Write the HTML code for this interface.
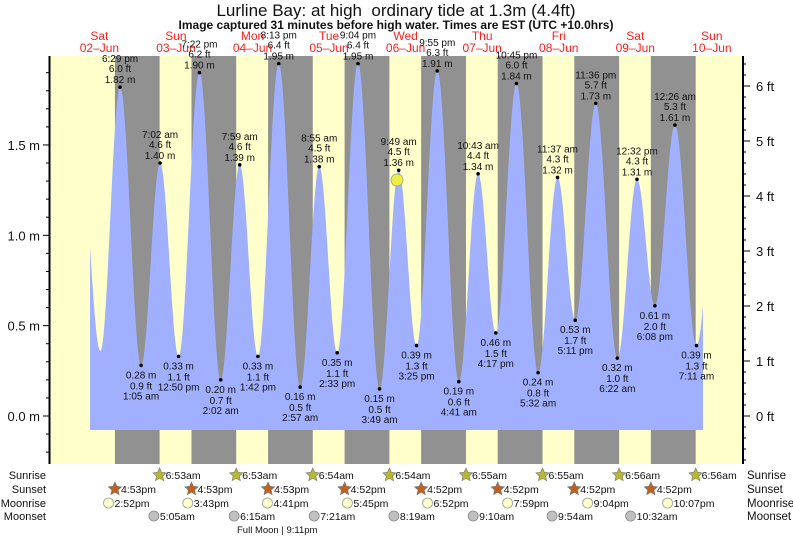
<!DOCTYPE html>
<html><head><meta charset="utf-8"><style>
body{margin:0;background:#fff;}
svg{display:block;font-family:"Liberation Sans",sans-serif;}
</style></head><body>
<svg id="s" width="793" height="538" viewBox="0 0 793 538" xmlns="http://www.w3.org/2000/svg">
<text x="396" y="16" font-size="17" text-anchor="middle" fill="#111" xml:space="preserve">Lurline Bay: at high  ordinary tide at 1.3m (4.4ft)</text>
</svg>
<script>
var S=document.getElementById('s'),NS='http://www.w3.org/2000/svg';
function el(t,a,txt){var e=document.createElementNS(NS,t);for(var k in a)e.setAttribute(k,a[k]);if(txt!=null)e.textContent=txt;S.appendChild(e);return e;}
function X(t){return 61.1+3.19*t;}
function Y(h){return 416-180.7*h;}
el('text',{x:396,y:29,'font-size':12,'text-anchor':'middle','font-weight':'bold',fill:'#111'},'Image captured 31 minutes before high water. Times are EST (UTC +10.0hrs)');
el('rect',{x:50,y:56,width:693,height:408,fill:'#ffffcc'});
var rise=[6.88,6.88,6.9,6.9,6.92,6.92,6.92,6.93,6.93];
var set=[16.88,16.88,16.88,16.87,16.87,16.87,16.87,16.87];
for(var d=0;d<8;d++){var a=X(d*24+set[d]),b=X((d+1)*24+rise[d+1]);el('rect',{x:a,y:56,width:b-a,height:408,fill:'#919191'});}
var ex=[[6.2,1.41],[12.3,0.36],[18.48,1.82],
[24+1.08,0.28],[24+7.03,1.40],[24+12.83,0.33],[24+19.37,1.90],
[48+2.03,0.20],[48+7.98,1.39],[48+13.7,0.33],[48+20.22,1.95],
[72+2.95,0.16],[72+8.92,1.38],[72+14.55,0.35],[72+21.07,1.95],
[96+3.82,0.15],[96+9.82,1.36],[96+15.42,0.39],[96+21.92,1.91],
[120+4.68,0.19],[120+10.72,1.34],[120+16.28,0.46],[120+22.75,1.84],
[144+5.53,0.24],[144+11.62,1.32],[144+17.18,0.53],[144+23.6,1.73],
[168+6.37,0.32],[168+12.53,1.31],[168+18.13,0.61],
[192+0.43,1.61],[192+7.18,0.39],[192+13.4,1.30]];
function H(t){for(var i=0;i<ex.length-1;i++){if(t>=ex[i][0]&&t<=ex[i+1][0]){var f=(t-ex[i][0])/(ex[i+1][0]-ex[i][0]);return ex[i][1]+(ex[i+1][1]-ex[i][1])*(1-Math.cos(Math.PI*f))/2;}}return 0;}
var p='M90,430';
for(var x=90;x<=703;x+=0.5){var t=(x-61.1)/3.19;p+=' L'+x+','+Y(H(t)).toFixed(1);}
p+=' L703,430 Z';
el('path',{d:p,fill:'#a0b0ff'});
el('line',{x1:49.5,y1:56,x2:49.5,y2:464,stroke:'#000','stroke-width':2});
el('line',{x1:743,y1:56,x2:743,y2:464,stroke:'#000','stroke-width':2});
for(var h=-0.2;h<=2.0;h+=0.1){var y=Y(h);if(y<56||y>464)continue;var maj=Math.abs(h*2-Math.round(h*2))<0.01;el('line',{x1:maj?43:46,y1:y,x2:49,y2:y,stroke:'#000'});}
[0,0.5,1.0,1.5].forEach(function(h){el('text',{x:40,y:Y(h)+5,'font-size':13,'text-anchor':'end',fill:'#111'},h.toFixed(1)+' m');});
for(var f=-0.8;f<=6.6;f+=0.2){var y=416-55*f;if(y<56||y>464)continue;var maj=Math.abs(f-Math.round(f))<0.01;el('line',{x1:743,y1:y,x2:maj?750:746,y2:y,stroke:'#000'});if(maj)el('text',{x:756,y:y+5,'font-size':13,fill:'#111'},Math.round(f)+' ft');}
var days=[['Sat','02-Jun'],['Sun','03-Jun'],['Mon','04-Jun'],['Tue','05-Jun'],['Wed','06-Jun'],['Thu','07-Jun'],['Fri','08-Jun'],['Sat','09-Jun'],['Sun','10-Jun']];
days.forEach(function(dd,i){var x=X(i*24+12);el('text',{x:x,y:40,'font-size':12,'text-anchor':'middle',fill:'#ff2020'},dd[0]);el('text',{x:x,y:52,'font-size':12,'text-anchor':'middle',fill:'#ff2020'},dd[1].replace('-','\u2013'));});
var labs=[[18.48,1.82,'6:29 pm','6.0 ft'],[24+1.08,0.28,'1:05 am','0.9 ft'],[24+7.03,1.40,'7:02 am','4.6 ft'],[24+12.83,0.33,'12:50 pm','1.1 ft'],[24+19.37,1.90,'7:22 pm','6.2 ft'],
[48+2.03,0.20,'2:02 am','0.7 ft'],[48+7.98,1.39,'7:59 am','4.6 ft'],[48+13.7,0.33,'1:42 pm','1.1 ft'],[48+20.22,1.95,'8:13 pm','6.4 ft'],
[72+2.95,0.16,'2:57 am','0.5 ft'],[72+8.92,1.38,'8:55 am','4.5 ft'],[72+14.55,0.35,'2:33 pm','1.1 ft'],[72+21.07,1.95,'9:04 pm','6.4 ft'],
[96+3.82,0.15,'3:49 am','0.5 ft'],[96+9.82,1.36,'9:49 am','4.5 ft'],[96+15.42,0.39,'3:25 pm','1.3 ft'],[96+21.92,1.91,'9:55 pm','6.3 ft'],
[120+4.68,0.19,'4:41 am','0.6 ft'],[120+10.72,1.34,'10:43 am','4.4 ft'],[120+16.28,0.46,'4:17 pm','1.5 ft'],[120+22.75,1.84,'10:45 pm','6.0 ft'],
[144+5.53,0.24,'5:32 am','0.8 ft'],[144+11.62,1.32,'11:37 am','4.3 ft'],[144+17.18,0.53,'5:11 pm','1.7 ft'],[144+23.6,1.73,'11:36 pm','5.7 ft'],
[168+6.37,0.32,'6:22 am','1.0 ft'],[168+12.53,1.31,'12:32 pm','4.3 ft'],[168+18.13,0.61,'6:08 pm','2.0 ft'],
[192+0.43,1.61,'12:26 am','5.3 ft'],[192+7.18,0.39,'7:11 am','1.3 ft']];
labs.forEach(function(l){var x=X(l[0]),y=Y(l[1]);el('circle',{cx:x,cy:y,r:1.8,fill:'#000'});var hi=l[1]>1;var o={'font-size':10,'text-anchor':'middle',fill:'#111'};
function T(yy,s){o.x=x;o.y=yy;el('text',o,s);}
if(hi){T(y-4,l[1].toFixed(2)+' m');T(y-15,l[3]);T(y-25,l[2]);}
else{T(y+13,l[1].toFixed(2)+' m');T(y+24,l[3]);T(y+34,l[2]);}});
el('circle',{cx:397,cy:180,r:6,fill:'#eeee44',stroke:'#999','stroke-width':0.8});
var rowY=[475,489,503,516];
['Sunrise','Sunset','Moonrise','Moonset'].forEach(function(n,i){el('text',{x:46,y:rowY[i]+4,'font-size':11,'text-anchor':'end',fill:'#111'},n);el('text',{x:747,y:rowY[i]+4,'font-size':11.5,fill:'#111'},n);});
function star(cx,cy,fill){var pts=[];for(var k=0;k<10;k++){var r=k%2?3.3:7,a=-Math.PI/2+k*Math.PI/5;pts.push((cx+r*Math.cos(a)).toFixed(1)+','+(cy+r*Math.sin(a)).toFixed(1));}el('polygon',{points:pts.join(' '),fill:fill,stroke:'#777','stroke-width':0.6});}
var sr=['6:53am','6:53am','6:54am','6:54am','6:55am','6:55am','6:56am','6:56am'];
for(var d=1;d<=8;d++){var x=X(d*24+rise[d]);star(x,rowY[0],'#b8b830');el('text',{x:x+6,y:rowY[0]+4,'font-size':10.5,fill:'#111'},sr[d-1]);}
var ss=['4:53pm','4:53pm','4:53pm','4:52pm','4:52pm','4:52pm','4:52pm','4:52pm'];
for(var d=0;d<8;d++){var x=X(d*24+set[d]);star(x,rowY[1],'#c06020');el('text',{x:x+6,y:rowY[1]+4,'font-size':10.5,fill:'#111'},ss[d]);}
var mr=[[14.87,'2:52pm'],[24+15.72,'3:43pm'],[48+16.68,'4:41pm'],[72+17.75,'5:45pm'],[96+18.87,'6:52pm'],[120+19.98,'7:59pm'],[144+21.07,'9:04pm'],[168+22.12,'10:07pm']];
mr.forEach(function(m){var x=X(m[0]);el('circle',{cx:x,cy:rowY[2],r:5,fill:'#ffffcc',stroke:'#999','stroke-width':0.8});el('text',{x:x+6,y:rowY[2]+4,'font-size':10.5,fill:'#111'},m[1]);});
var ms=[[24+5.08,'5:05am'],[48+6.25,'6:15am'],[72+7.35,'7:21am'],[96+8.32,'8:19am'],[120+9.17,'9:10am'],[144+9.9,'9:54am'],[168+10.53,'10:32am']];
ms.forEach(function(m){var x=X(m[0]);el('circle',{cx:x,cy:rowY[3],r:5,fill:'#c0c0c0',stroke:'#888','stroke-width':0.8});el('text',{x:x+6,y:rowY[3]+4,'font-size':10.5,fill:'#111'},m[1]);});
el('text',{x:237,y:533,'font-size':9.5,fill:'#111'},'Full Moon | 9:11pm');
</script>
</body></html>
